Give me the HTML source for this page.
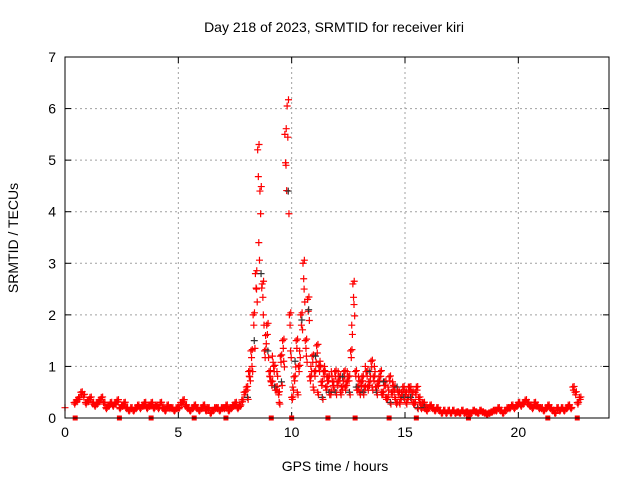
<!DOCTYPE html>
<html><head><meta charset="utf-8"><style>
html,body{margin:0;padding:0;background:#fff;}
svg{display:block;font-family:"Liberation Sans",sans-serif;}
</style></head><body>
<svg id="chart" width="640" height="480" viewBox="0 0 640 480">
<rect width="640" height="480" fill="#fff"/>
<text x="334" y="32" font-size="14" text-anchor="middle">Day 218 of 2023, SRMTID for receiver kiri</text>
<text x="18" y="238" font-size="14" text-anchor="middle" transform="rotate(-90 18 238)">SRMTID / TECUs</text>
<text x="335" y="471" font-size="14" text-anchor="middle">GPS time / hours</text>
<g id="grid"></g>
<g id="ticks"></g>
<g id="pts"></g>
<rect x="65" y="57" width="544" height="361" fill="none" stroke="#000" stroke-width="1"/>
</svg>
<script>
const xTicks=[0,5,10,15,20];
const yTicks=[0,1,2,3,4,5,6,7];
const startTime=0.4;
const mainVals=[0.3,0.35,0.4,0.5,0.45,0.3,
0.35,0.4,0.3,0.25,0.3,0.35,0.4,0.3,0.2,0.25,
0.3,0.25,0.3,0.35,0.2,0.25,0.3,0.2,0.15,0.2,
0.15,0.2,0.25,0.2,0.25,0.3,0.2,0.25,0.3,0.2,
0.25,0.2,0.3,0.2,0.15,0.25,0.2,0.2,0.15,0.2,
0.2,0.3,0.35,0.25,0.2,0.15,0.2,0.25,0.2,0.15,
0.2,0.25,0.15,0.2,0.1,0.15,0.2,0.2,0.15,0.2,
0.2,0.25,0.15,0.2,0.25,0.3,0.2,0.25,0.35,0.5,
0.6,0.9,1.3,2.0,2.8,5.2,4.4,2.6,1.3,1.8,
0.9,0.7,1.0,0.6,0.5,1.2,1.5,5.5,6.05,2.0,
0.4,0.8,1.5,1.0,2.0,3.0,1.5,2.3,0.8,1.2,
0.9,1.4,1.0,0.7,0.9,0.6,0.8,0.5,0.7,0.9,
0.7,0.8,0.6,0.9,0.7,0.8,1.3,2.6,0.9,0.6,
0.5,0.8,0.6,0.9,0.7,1.1,0.8,0.6,0.7,0.9,
0.5,0.7,0.4,0.8,0.5,0.6,0.3,0.5,0.4,0.6,
0.5,0.4,0.6,0.5,0.3,0.6,0.4,0.2,0.3,0.2,
0.2,0.25,0.2,0.15,0.2,0.15,0.1,0.15,0.1,0.15,
0.1,0.15,0.1,0.12,0.1,0.15,0.1,0.12,0.1,0.1,
0.15,0.12,0.1,0.15,0.12,0.1,0.08,0.1,0.12,0.15,
0.15,0.2,0.15,0.1,0.15,0.2,0.2,0.25,0.2,0.25,
0.3,0.25,0.3,0.35,0.3,0.25,0.2,0.3,0.25,0.2,
0.2,0.15,0.2,0.25,0.2,0.15,0.1,0.2,0.15,0.2,
0.15,0.2,0.25,0.2,0.6,0.5,0.3,0.4];
const extraStart=8.05;
const extraVals=[0.4,0.8,1.0,1.5,2.5,3.4,2.8,2.0,1.6,1.3,
0.8,1.2,0.6,0.9,0.3,0.7,1.1,4.9,4.4,1.3,
0.6,1.1,0.5,1.3,1.9,2.5,1.2,2.1,1.0,0.6,
1.2,0.5,1.1,0.4,1.0,0.8,0.5,0.9,0.6,0.5,
0.9,0.5,0.8,0.6,0.9,0.5,1.8,2.2,0.6,0.8,
0.7,0.5,1.0,0.6,0.9,0.6,1.0,0.5,0.8,0.5,
0.7,0.4,0.6,0.3,0.7,0.4,0.6,0.3,0.5,0.4,
0.3,0.6,0.4,0.3,0.5,0.2,0.3,0.3,0.2,0.15];
const singleTimes=[0.0];
const singleVals=[0.2];
const zeroTimes=[0.45,2.4,3.8,5.7,7.1,9.1,10.0,11.6,12.8,14.3,15.5,17.8,21.3,22.6];

const X0=65,X1=609,Y0=418,Y1=57,XMAX=24,YMAX=7;
const sx=t=>X0+(X1-X0)*t/XMAX;
const sy=v=>Y0-(Y0-Y1)*v/YMAX;
const NS='http://www.w3.org/2000/svg';
const grid=document.getElementById('grid'),ticks=document.getElementById('ticks'),pts=document.getElementById('pts');
function mk(tag,attrs,parent){const e=document.createElementNS(NS,tag);for(const k in attrs)e.setAttribute(k,attrs[k]);parent.appendChild(e);return e;}
xTicks.forEach(t=>{
  const x=sx(t);
  if(t>0){const g=mk('line',{x1:x,x2:x,y1:Y1,y2:Y0,stroke:'#a0a0a0','stroke-dasharray':'2,3'},grid);
  
  }
  mk('line',{x1:x,x2:x,y1:Y0,y2:Y0-6,stroke:'#000'},ticks);
  mk('line',{x1:x,x2:x,y1:Y1,y2:Y1+6,stroke:'#000'},ticks);
  const l=mk('text',{x:x,y:Y0+19,'font-size':14,'text-anchor':'middle'},ticks);
  l.textContent=t;
  
  
});
yTicks.forEach(v=>{
  const y=sy(v);
  if(v>0&&v<YMAX){const g=mk('line',{x1:X0,x2:X1,y1:y,y2:y,stroke:'#a0a0a0','stroke-dasharray':'2,3'},grid);
  
  }
  mk('line',{x1:X0,x2:X0+6,y1:y,y2:y,stroke:'#000'},ticks);
  mk('line',{x1:X1,x2:X1-6,y1:y,y2:y,stroke:'#000'},ticks);
  const l=mk('text',{x:X0-9,y:y+5,'font-size':14,'text-anchor':'end'},ticks);
  l.textContent=v;
  
  
});
function plus(t,v,col){
  const x=sx(t),y=sy(v);
  const p=mk('path',{d:`M${x-3.5},${y}h7M${x},${y-3.5}v7`,stroke:col,'stroke-width':1.2,fill:'none'},pts);
  
  
}
mainVals.forEach((v,i)=>{const t=startTime+i*0.1;plus(t,v,'#f00');plus(t+0.03,v*0.9,'#f00');plus(t+0.06,v*1.02,'#f00');});
extraVals.forEach((v,i)=>{const t=extraStart+i*0.1;plus(t,v,i%3==0?'#333':'#f00');plus(t+0.03,v*0.9,'#f00');});
singleVals.forEach((v,i)=>plus(singleTimes[i],v,'#f00'));
zeroTimes.forEach(t=>{const r=mk('rect',{x:sx(t)-2.5,y:Y0-2.5,width:5,height:5,fill:'#f00'},pts);

});
</script>
</body></html>
